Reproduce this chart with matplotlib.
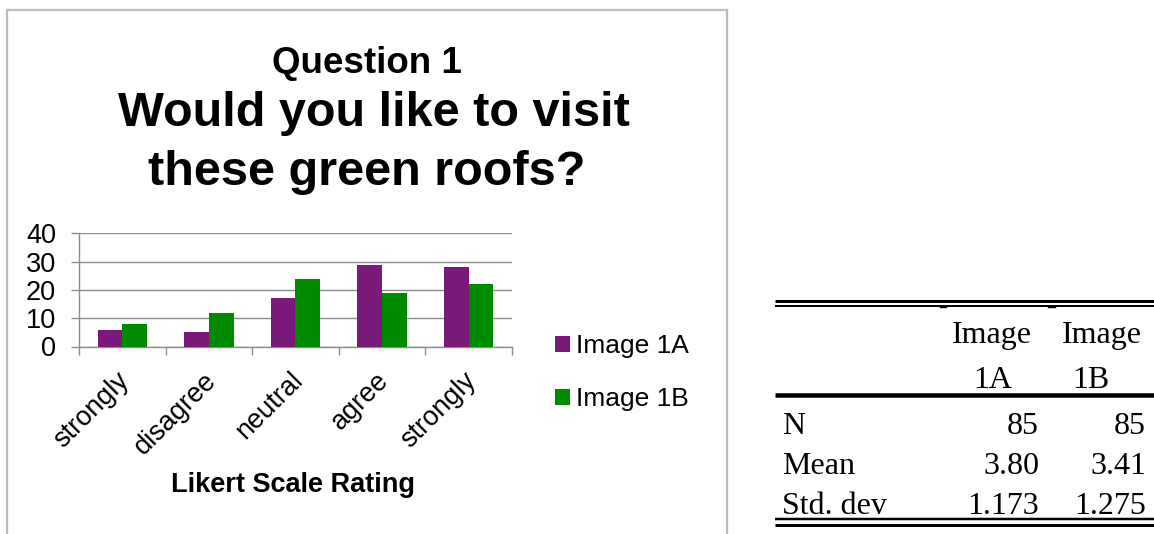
import matplotlib
matplotlib.use("Agg")
import matplotlib.pyplot as plt
from matplotlib.patches import Rectangle, Patch
from matplotlib.lines import Line2D
from matplotlib.transforms import ScaledTranslation
import numpy as np

# Likert responses per rating category
categories = ["strongly", "disagree", "neutral", "agree", "strongly"]
image_1a = [6, 5, 17, 29, 28]
image_1b = [8, 12, 24, 19, 22]
series_names = ["Image 1A", "Image 1B"]
y_ticks = [0, 10, 20, 30, 40]

# Summary statistics table
stat_rows = ["N", "Mean", "Std. dev"]
stats_1a = ["85", "3.80", "1.173"]
stats_1b = ["85", "3.41", "1.275"]

W, H = 1154, 534
PURPLE = "#7a1a78"
GREEN = "#008a00"
GRID = "#8c8c8c"

fig = plt.figure(figsize=(W / 100, H / 100), dpi=100)
sans = ["Liberation Sans", "DejaVu Sans"]
serif = ["Liberation Serif", "DejaVu Serif"]


def fx(x):
    return x / W


def fy(y):
    return 1 - y / H


# chart frame
fig.add_artist(Rectangle((fx(7), fy(560)), fx(727) - fx(7), fy(9.5) - fy(560),
                         transform=fig.transFigure, fill=False,
                         edgecolor="#bdbdbd", linewidth=1.6))

# titles
fig.text(fx(367), fy(72.5), "Question 1", ha="center", va="baseline",
         fontsize=26.5, fontweight="bold", family=sans)
fig.text(fx(374), fy(126.5), "Would you like to visit", ha="center",
         va="baseline", fontsize=35, fontweight="bold", family=sans)
fig.text(fx(367), fy(185), "these green roofs?", ha="center",
         va="baseline", fontsize=35, fontweight="bold", family=sans)

# bar chart
ax = fig.add_axes([fx(79), fy(346.5), fx(512) - fx(79), fy(233.4) - fy(346.5)])
x = np.arange(len(categories))
bw = 1 / 3.5
ax.bar(x - bw / 2, image_1a, width=bw, color=PURPLE, linewidth=0, zorder=3,
       label=series_names[0])
ax.bar(x + bw / 2, image_1b, width=bw, color=GREEN, linewidth=0, zorder=3,
       label=series_names[1])
ax.set_xlim(-0.5, len(categories) - 0.5)
ax.set_ylim(0, 40)
ax.set_yticks(y_ticks)
ax.set_yticklabels([str(v) for v in y_ticks], fontsize=19.5, family=sans)
ax.yaxis.grid(True, color=GRID, linewidth=1.0, zorder=0)
ax.tick_params(axis="y", length=6, width=1.0, color=GRID, pad=10.5)
ax.set_xticks(x)
ax.set_xticklabels(categories, rotation=45, ha="right", va="top",
                   rotation_mode="anchor", fontsize=19.5, family=sans)
ax.tick_params(axis="x", which="major", length=0, pad=15)
shift = ScaledTranslation(-6 / 100, 0, fig.dpi_scale_trans)
for lbl in ax.get_xticklabels():
    lbl.set_transform(lbl.get_transform() + shift)
ax.set_xticks(np.arange(-0.5, len(categories), 1.0), minor=True)
ax.tick_params(axis="x", which="minor", length=5.5, width=1.0, color=GRID)
for s in ["top", "right"]:
    ax.spines[s].set_visible(False)
for s in ["left", "bottom"]:
    ax.spines[s].set_color(GRID)
    ax.spines[s].set_linewidth(1.0)
ax.set_axisbelow(True)

fig.text(fx(293), fy(485), "Likert Scale Rating", ha="center", va="center",
         fontsize=19.5, fontweight="bold", family=sans)

handles = [Patch(facecolor=PURPLE, edgecolor="none"),
           Patch(facecolor=GREEN, edgecolor="none")]
fig.legend(handles, series_names, loc="upper left",
           bbox_to_anchor=(fx(555), fy(334)), frameon=False,
           prop={"family": sans, "size": 19}, handlelength=0.55,
           handleheight=0.55, handletextpad=0.25, labelspacing=1.1,
           borderpad=0, borderaxespad=0)

# statistics table
x0, x1 = fx(775), fx(1154)
for y, lw in [(301, 3.0), (305.5, 2.0), (395, 4.5), (519, 2.5), (524.5, 3.0)]:
    fig.add_artist(Line2D([x0, x1], [fy(y), fy(y)], color="black",
                          linewidth=lw * 0.72, transform=fig.transFigure,
                          solid_capstyle="butt"))
for xa, xb in [(940, 946), (1048, 1055)]:
    fig.add_artist(Line2D([fx(xa), fx(xb)], [fy(307), fy(307)],
                          color="black", linewidth=1.0,
                          transform=fig.transFigure))

tkw = dict(fontsize=23, family=serif, va="center")
fig.text(fx(992), fy(336), "Image", ha="center", **tkw)
fig.text(fx(1102), fy(336), "Image", ha="center", **tkw)
fig.text(fx(993), fy(381), "1A", ha="center", **tkw)
fig.text(fx(1091), fy(381), "1B", ha="center", **tkw)
for yc, lab, a, b in zip([426, 467, 507], stat_rows, stats_1a, stats_1b):
    fig.text(fx(782), fy(yc), lab, ha="left", **tkw)
    fig.text(fx(1039), fy(yc), a, ha="right", **tkw)
    fig.text(fx(1146), fy(yc), b, ha="right", **tkw)

fig.savefig("out.png", dpi=100)
